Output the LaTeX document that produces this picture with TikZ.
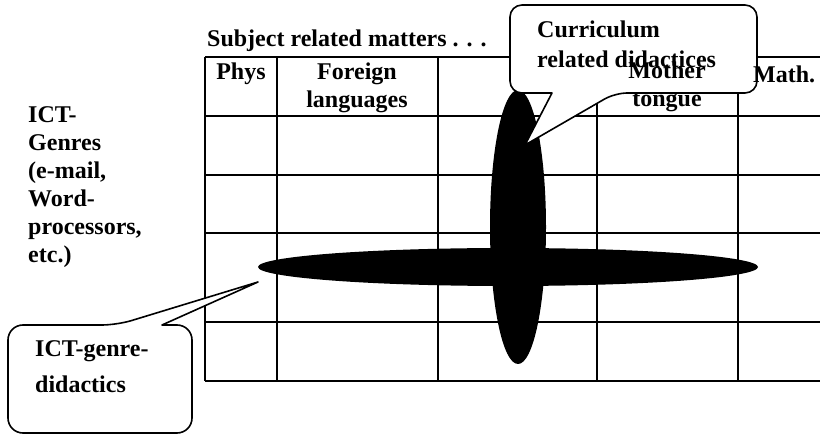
\documentclass[tikz,border=0pt]{standalone}
\usepackage{fontspec}
\setmainfont{Liberation Serif}
\usepackage{tikz}
\usetikzlibrary{positioning, shapes.geometric}
\tikzset{
    gridline/.style={draw, line width=1.2pt, black},
    blob/.style={ellipse, fill=black, inner sep=0pt},
    bubble/.style={draw, line width=1.6pt, fill=white, line join=round},
    txt/.style={font=\bfseries\fontsize{24}{28}\selectfont, inner sep=0pt, align=left},
    head/.style={font=\bfseries\fontsize{24}{28}\selectfont, inner sep=0pt, align=center}
}
\begin{document}
\begin{tikzpicture}[x=1pt, y=-1pt]
\useasboundingbox (0,0) rectangle (820,435);

% Table of subjects
\foreach \x in {205,277,438,597,738}
    \draw[gridline] (\x,57) -- (\x,381);
\foreach \y in {57,116,175,233,322,381}
    \draw[gridline] (205,\y) -- (820,\y);

% The two crossing blobs
\node[blob, minimum width=56pt, minimum height=274pt] (curric) at (518,227) {};
\node[blob, minimum width=500pt, minimum height=38pt] (genre) at (508,267) {};

% Row and table titles (base = last line)
\node[txt, anchor=base west] (subj) at (207,47) {Subject related matters . . .};
\node[txt, anchor=base west] (ictg) at (28,263) {ICT-\\Genres\\(e-mail,\\Word-\\processors,\\etc.)};

% Callout for curriculum didactics
\coordinate (tipc) at (525,145);
\draw[bubble] [rounded corners=12pt] (552,93) -- (510,93) -- (510,5) -- (757,5) -- (757,93) -- (615,93) [sharp corners] -- (tipc) -- cycle;
\node[txt, anchor=base west] (cdid) at (537,68) {Curriculum\\[2pt]related didactices};

% Callout for genre didactics
\coordinate (tipg) at (258,282);
\draw[bubble] [rounded corners=15pt] (162,325) -- (192,325) -- (192,433) -- (8,433) -- (8,325) -- (117,325) [sharp corners] -- (tipg) -- cycle;
\node[txt, anchor=base west] (gdid) at (35,393) {ICT-genre-\\[8pt]didactics};

% Column heads
\node[head, anchor=base] (phys) at (241,80) {Phys};
\node[head, anchor=base] (forl) at (357,108) {Foreign\\languages};
\node[head, anchor=base] (moth) at (667,107) {Mother\\tongue};
\node[head, anchor=base west] (math) at (753,83) {Math.};
\end{tikzpicture}
\end{document}
